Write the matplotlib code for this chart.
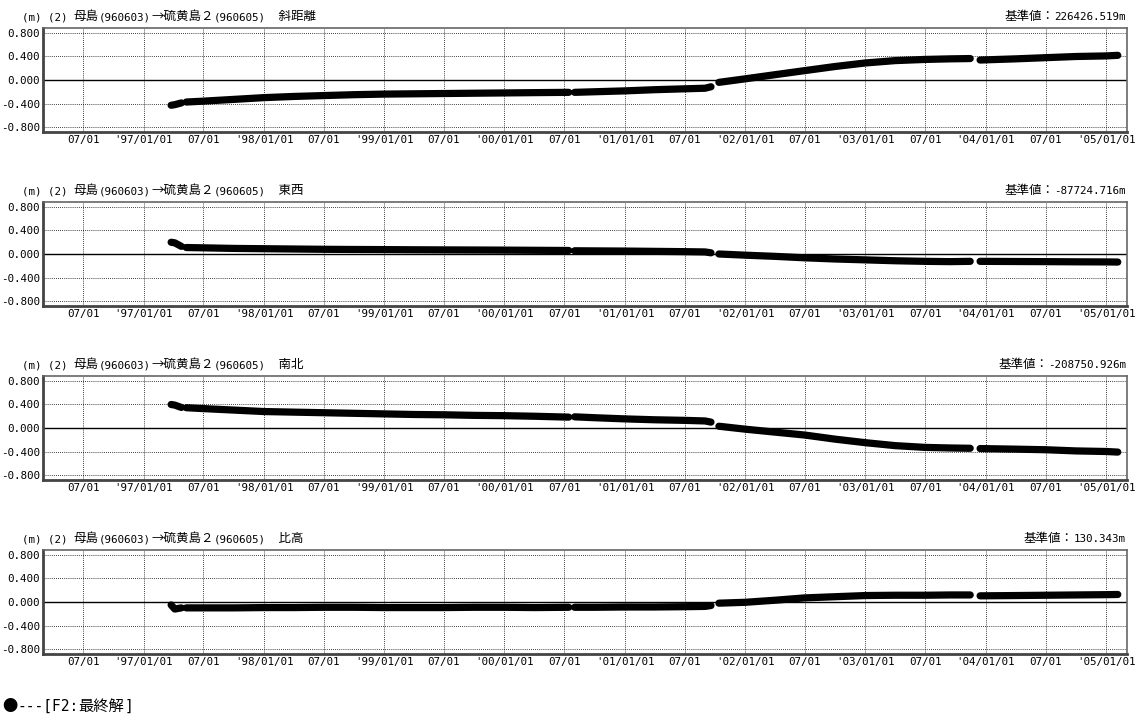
import matplotlib
matplotlib.use("Agg")
import matplotlib.pyplot as plt
import numpy as np
import pandas as pd

plt.rcParams['font.family'] = ['DejaVu Sans Mono', 'Noto Sans CJK JP']

# ---------------- data ----------------
dates = ["1997-03-25", "1997-04-05", "1997-04-25", "1997-05-01", "1997-05-10",
         "1997-07-01", "1997-10-01", "1998-01-01", "1998-04-01", "1998-07-01",
         "1998-10-01", "1999-01-01", "1999-04-01", "1999-07-01", "1999-10-01",
         "2000-01-01", "2000-04-01", "2000-07-14", "2000-07-20", "2000-08-01",
         "2000-10-01", "2001-01-01", "2001-04-01", "2001-07-01", "2001-09-01",
         "2001-09-19", "2001-10-01", "2001-10-13", "2002-01-01", "2002-04-01",
         "2002-07-01", "2002-10-01", "2003-01-01", "2003-04-01", "2003-07-01",
         "2003-09-15", "2003-11-15", "2003-11-28", "2003-12-15", "2004-04-01",
         "2004-07-01", "2004-10-01", "2005-01-01", "2005-02-05"]

slope = [-0.43, -0.42, -0.39, None, -0.375, -0.36, -0.33, -0.30, -0.28, -0.265,
         -0.25, -0.24, -0.235, -0.23, -0.225, -0.22, -0.215, -0.21, None, -0.21,
         -0.20, -0.185, -0.165, -0.15, -0.14, -0.115, None, -0.04, 0.02, 0.09,
         0.16, 0.23, 0.29, 0.33, 0.35, 0.36, 0.365, None, 0.34, 0.36,
         0.38, 0.40, 0.41, 0.42]

east_west = [0.20, 0.19, 0.13, None, 0.11, 0.105, 0.095, 0.09, 0.085, 0.08,
             0.077, 0.075, 0.072, 0.07, 0.068, 0.066, 0.063, 0.06, None, 0.055,
             0.053, 0.05, 0.045, 0.04, 0.035, 0.02, None, 0.0, -0.02, -0.04,
             -0.065, -0.085, -0.10, -0.115, -0.125, -0.13, -0.125, None, -0.125, -0.128,
             -0.13, -0.133, -0.135, -0.137]

north_south = [0.40, 0.39, 0.35, None, 0.345, 0.33, 0.305, 0.28, 0.27, 0.26,
               0.25, 0.24, 0.23, 0.225, 0.215, 0.21, 0.20, 0.185, None, 0.19,
               0.175, 0.155, 0.14, 0.13, 0.12, 0.10, None, 0.03, -0.02, -0.07,
               -0.12, -0.19, -0.25, -0.30, -0.33, -0.34, -0.345, None, -0.35, -0.36,
               -0.37, -0.39, -0.40, -0.41]

height = [-0.05, -0.12, -0.10, None, -0.10, -0.10, -0.10, -0.095, -0.095, -0.09,
          -0.09, -0.095, -0.095, -0.095, -0.09, -0.09, -0.095, -0.09, None, -0.09,
          -0.09, -0.085, -0.085, -0.08, -0.075, -0.06, None, -0.02, -0.005, 0.03,
          0.07, 0.09, 0.11, 0.115, 0.115, 0.12, 0.12, None, 0.105, 0.11,
          0.115, 0.12, 0.125, 0.128]

components = ["斜距離", "東西", "南北", "比高"]
reference_values = ["226426.519m", "-87724.716m", "-208750.926m", "130.343m"]
series = [slope, east_west, north_south, height]

title_prefix = "(m) (2) 母島(960603)→硫黄島２(960605)"
ytick_values = [-0.8, -0.4, 0.0, 0.4, 0.8]
legend_text = "●---[F2:最終解]"

# ---------------- figure ----------------
W, H = 1142, 716
fig = plt.figure(figsize=(W / 100, H / 100), dpi=100)
renderer = fig.canvas.get_renderer()

MONO = 'DejaVu Sans Mono'
CJK = 'Noto Sans CJK JP'
ASCII_SIZE = 7.8
CJK_SIZE = 9.0


def split_runs(s):
    runs = []
    for ch in s:
        kind = ord(ch) < 128
        if runs and runs[-1][0] == kind:
            runs[-1][1] += ch
        else:
            runs.append([kind, ch])
    return runs


def mixed_text(x_px, y_base_px, s, ascii_size, cjk_size, ha="left"):
    """Draw text in runs: ASCII in a monospace face, CJK in Noto, on one baseline."""
    runs = split_runs(s)
    artists = []
    widths = []
    for is_ascii, chunk in runs:
        t = fig.text(0, 1 - y_base_px / H, chunk,
                     family=[MONO, CJK] if is_ascii else [CJK, MONO],
                     fontsize=ascii_size if is_ascii else cjk_size,
                     ha="left", va="baseline")
        w = t.get_window_extent(renderer).width
        artists.append(t)
        widths.append(w)
    total = sum(widths)
    cur = x_px if ha == "left" else x_px - total
    for t, w in zip(artists, widths):
        t.set_x(cur / W)
        cur += w


x = pd.to_datetime(dates)
xmin = pd.Timestamp("1996-03-01")
xmax = pd.Timestamp("2005-03-05")
tick_dates = pd.date_range("1996-07-01", "2005-01-01", freq="MS")
tick_dates = [d for d in tick_dates if d.month in (1, 7)]
tick_labels = [("'%02d/01/01" % (d.year % 100)) if d.month == 1 else "07/01" for d in tick_dates]

left_px, right_px = 43, 1127
tops = [28, 202, 376, 550]
ph = 104

for i, (vals, comp, ref) in enumerate(zip(series, components, reference_values)):
    top = tops[i]
    ax = fig.add_axes([left_px / W, 1 - (top + ph) / H, (right_px - left_px) / W, ph / H])
    y = np.array([np.nan if v is None else v for v in vals], dtype=float)
    ax.plot(x, y, color="black", lw=5.2, solid_capstyle="round", solid_joinstyle="round", zorder=3)
    ax.set_xlim(xmin, xmax)
    ax.set_ylim(-0.885, 0.885)
    ax.set_yticks(ytick_values)
    ax.set_yticklabels(["%.3f" % v if v != 0 else "0.000" for v in ytick_values],
                       fontsize=ASCII_SIZE, family=MONO)
    ax.set_xticks(tick_dates)
    ax.set_xticklabels(tick_labels, fontsize=ASCII_SIZE, family=MONO)
    ax.tick_params(axis="both", length=0, pad=2)
    ax.grid(True, color="black", linestyle=(0, (1, 1.5)), linewidth=0.6)
    ax.axhline(0, color="black", lw=1.0, zorder=2)
    for s in ["left", "bottom"]:
        ax.spines[s].set_linewidth(2.0)
        ax.spines[s].set_color("#444444")
    for s in ["top", "right"]:
        ax.spines[s].set_linewidth(1.2)
        ax.spines[s].set_color("#666666")
    mixed_text(22, top - 8, title_prefix + "　" + comp, ASCII_SIZE, CJK_SIZE, ha="left")
    mixed_text(1126, top - 8, "基準値：" + ref, ASCII_SIZE, CJK_SIZE, ha="right")

mixed_text(2, 711, legend_text, 10.5, 11.0, ha="left")

fig.savefig("out.png", dpi=100)
